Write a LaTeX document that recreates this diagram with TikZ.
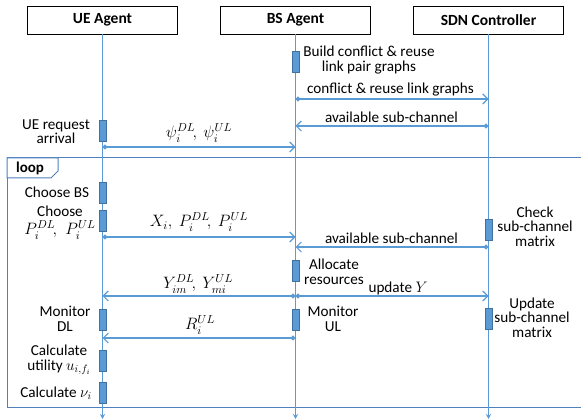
\RequirePackage{fix-cm}
\documentclass[tikz,border=0pt]{standalone}
\usepackage{amsmath}
\usepackage{fontspec}
\setmainfont{Carlito}
\usetikzlibrary{arrows.meta}
\definecolor{life}{HTML}{5B9BD5}
\definecolor{actb}{HTML}{41719C}
\definecolor{frame}{HTML}{4F81BD}
\tikzset{
  hdr/.style={draw=black, line width=0.9pt, fill=white, minimum width=150pt, minimum height=28pt, inner sep=0pt, font=\fontsize{15.5}{17}\selectfont\bfseries},
  lifeline/.style={draw=life, line width=1.1pt, -{Stealth[length=5pt,width=5pt]}},
  actbox/.style={draw=actb, fill=life, line width=0.8pt, minimum width=7pt, minimum height=21pt, inner sep=0pt},
  msg/.style={draw=life, line width=1.1pt, {Circle[length=5pt]}-{Straight Barb[length=5pt,width=10pt]}},
  lbl/.style={inner sep=0pt, align=center, font=\fontsize{15.2}{14.5}\selectfont},
  mlbl/.style={inner sep=0pt, font=\fontsize{16.5}{16}\selectfont},
}
\begin{document}
\begin{tikzpicture}[x=1pt,y=-1pt]
\useasboundingbox (0,0) rectangle (581,419);
% loop frame
\draw[frame, line width=1pt] (7,158) rectangle (600,408);
\draw[frame, line width=1pt, fill=white] (7,158) -- (58,158) -- (58,171) -- (51,178) -- (7,178) -- cycle;
\node[inner sep=0pt, font=\fontsize{15}{15}\selectfont\bfseries] (loop) at (30,168) {loop};
% headers
\node[hdr] (ue) at (102.5,20) {UE Agent};
\node[hdr] (bs) at (295.5,20) {BS Agent};
\node[hdr] (sdn) at (488.5,20) {SDN Controller};
% lifelines
\coordinate (ueend) at (102.5,419);
\coordinate (bsend) at (295.5,419);
\coordinate (sdnend) at (488.5,419);
\draw[lifeline] (ue.south) -- (ueend);
\draw[lifeline] (bs.south) -- (bsend);
\draw[lifeline] (sdn.south) -- (sdnend);
% activation boxes
\node[actbox] (a1) at (295.5,62) {};
\node[actbox] (a2) at (102.5,131) {};
\node[actbox] (a3) at (102.5,192.5) {};
\node[actbox] (a4) at (102.5,220.5) {};
\node[actbox] (a5) at (488.5,229.5) {};
\node[actbox] (a6) at (295.5,270.5) {};
\node[actbox] (a7) at (102.5,319.5) {};
\node[actbox] (a8) at (295.5,319.5) {};
\node[actbox] (a9) at (488.5,318.5) {};
\node[actbox] (a10) at (102.5,360.5) {};
\node[actbox] (a11) at (102.5,392.5) {};
% message endpoints
\coordinate (m1s) at (295.5,99); \coordinate (m1e) at (488.5,99);
\coordinate (m2s) at (488.5,126); \coordinate (m2e) at (295.5,126);
\coordinate (m3s) at (102.5,147); \coordinate (m3e) at (295.5,147);
\coordinate (m4s) at (102.5,237); \coordinate (m4e) at (295.5,237);
\coordinate (m5s) at (488.5,247); \coordinate (m5e) at (295.5,247);
\coordinate (m6s) at (295.5,296); \coordinate (m6e) at (102.5,296);
\coordinate (m7e) at (488.5,296);
\coordinate (m8s) at (295.5,338); \coordinate (m8e) at (102.5,338);
\draw[msg] (m1s) -- (m1e);
\draw[msg] (m2s) -- (m2e);
\draw[msg] (m3s) -- (m3e);
\draw[msg] (m4s) -- (m4e);
\draw[msg] (m5s) -- (m5e);
\draw[msg] (m6s) -- (m6e);
\draw[msg] (m6s) -- (m7e);
\draw[msg] (m8s) -- (m8e);
% labels
\node[lbl] (t1) at (369,60) {Build conflict \& reuse\\link pair graphs};
\node[lbl] (t2) at (390.5,90) {conflict \& reuse link graphs};
\node[lbl] (t3) at (391.5,117) {available sub-channel};
\node[lbl] (t4) at (56,131.5) {UE request\\arrival};
\node[mlbl] (t5) at (199,133) {$\psi_i^{DL}\!,\ \psi_i^{UL}$};
\node[lbl] (t6) at (57,192) {Choose BS};
\node[lbl] (t7) at (60,211) {Choose};
\node[mlbl] (t8) at (60,230) {$P_i^{DL}\!,\,\, P_i^{UL}$};
\node[mlbl] (t9) at (199,222) {$X_i,\ P_i^{DL}\!,\ P_i^{UL}$};
\node[lbl] (t10) at (535,226.5) {Check\\sub-channel\\matrix};
\node[lbl] (t11) at (391.5,238) {available sub-channel};
\node[lbl] (t12) at (334,272) {Allocate\\resources};
\node[mlbl] (t13) at (198,284) {$Y_{im}^{DL}\!,\ Y_{mi}^{UL}$};
\node[lbl] (t14) at (398,288.5) {update $Y$};
\node[lbl] (t15) at (65,319) {Monitor\\DL};
\node[lbl] (t16) at (333,319) {Monitor\\UL};
\node[lbl] (t17) at (532,317.5) {Update\\sub-channel\\matrix};
\node[mlbl] (t18) at (200,325) {$R_i^{UL}$};
\node[lbl] (t19) at (59,360) {Calculate\\utility $u_{i,f_i}$};
\node[lbl] (t20) at (56,393) {Calculate $\nu_i$};
\end{tikzpicture}
\end{document}
